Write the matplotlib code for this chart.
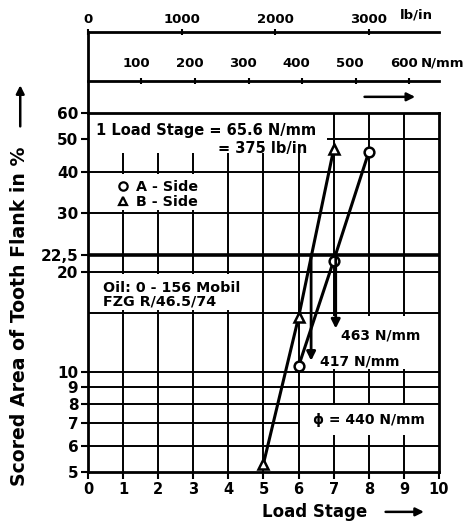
import matplotlib.pyplot as plt
from matplotlib.patches import Rectangle
from matplotlib.lines import Line2D
from matplotlib.ticker import NullLocator

plt.rcParams['font.family'] = ['DejaVu Sans']
plt.rcParams['font.weight'] = 'bold'

# Data
stages_A = [6, 7, 8]
scored_A = [10.4, 21.6, 45.8]
stages_B = [5, 6, 7]
scored_B = [5.3, 14.6, 46.7]
limit_level = 22.5
limit_loads = [417, 463]          # N/mm at 22.5 %
limit_arrow_ends = [10.8, 13.5]
mean_load = 440
n_per_stage = 65.6
lb_per_stage = 375

y_ticks = [5, 6, 7, 8, 9, 10, 20, 22.5, 30, 40, 50, 60]
y_tick_labels = ['5', '6', '7', '8', '9', '10', '20', '22,5', '30', '40', '50', '60']
y_grid = [6, 7, 8, 9, 10, 15, 20, 30, 40, 50]
lb_ticks = [0, 1000, 2000, 3000]
n_ticks = [100, 200, 300, 400, 500, 600]

fig = plt.figure(figsize=(4.73, 5.30), dpi=100)
ax = fig.add_axes([0.186, 0.1094, 0.7421, 0.6774])

ax.set_xlim(0, 10)
ax.set_yscale('log')
ax.set_ylim(5, 60)
ax.set_yticks(y_ticks)
ax.set_yticklabels(y_tick_labels)
ax.yaxis.set_minor_locator(NullLocator())
ax.set_xticks(range(11))
ax.tick_params(axis='both', direction='out', length=5, width=1.5, pad=2)
ax.tick_params(axis='y', labelsize=11)
ax.tick_params(axis='x', labelsize=10.5)
for s in ax.spines.values():
    s.set_linewidth(2)

# grid
for v in y_grid:
    ax.axhline(v, color='black', lw=1.4, zorder=1)
ax.axhline(limit_level, color='black', lw=2.6, zorder=1)
for v in range(1, 10):
    ax.axvline(v, color='black', lw=1.4, zorder=1)

# white boxes over the grid
boxes = [(0, 45.5, 6.8, 60), (0, 30.6, 3.5, 39.4), (0, 15.3, 4.95, 19.7),
         (6.5, 10.2, 10, 14.7), (6.05, 6.45, 10, 7.95)]
for x0, y0, x1, y1 in boxes:
    ax.add_patch(Rectangle((x0, y0), x1 - x0, y1 - y0, facecolor='white',
                           edgecolor='none', zorder=2))

# series
ax.plot(stages_B, scored_B, color='black', lw=2.2, marker='^', ms=7,
        mfc='white', mec='black', mew=1.8, zorder=4)
ax.plot(stages_A, scored_A, color='black', lw=2.2, marker='o', ms=7,
        mfc='white', mec='black', mew=1.8, zorder=4)

# arrows for the limit loads
for load, yend in zip(limit_loads, limit_arrow_ends):
    xs = load / n_per_stage
    ax.annotate('', xy=(xs, yend), xytext=(xs, limit_level),
                arrowprops=dict(arrowstyle='-|>', lw=2, color='black',
                                mutation_scale=13, shrinkA=0, shrinkB=0),
                zorder=5)
ax.text(7.2, 12.9, f'{limit_loads[1]} N/mm', fontsize=10, va='center', zorder=3)
ax.text(6.6, 10.75, f'{limit_loads[0]} N/mm', fontsize=10, va='center', zorder=3)
ax.text(6.4, 7.15, f'ϕ = {mean_load} N/mm', fontsize=10, va='center', zorder=3)

ax.text(0.22, 53.0, f'1 Load Stage = {n_per_stage} N/mm', fontsize=10.5,
        va='center', zorder=3)
ax.text(3.7, 46.8, f'= {lb_per_stage} lb/in', fontsize=10.5, va='center', zorder=3)
ax.text(0.42, 17.9, 'Oil: 0 - 156 Mobil', fontsize=10.3, va='center', zorder=3)
ax.text(0.42, 16.3, 'FZG R/46.5/74', fontsize=10.3, va='center', zorder=3)

handles = [Line2D([], [], ls='none', marker='o', ms=6, mfc='white', mec='black', mew=1.6),
           Line2D([], [], ls='none', marker='^', ms=6, mfc='white', mec='black', mew=1.6)]
leg = ax.legend(handles, ['A - Side', 'B - Side'], loc='center left',
                bbox_to_anchor=(0.084, 0.773), frameon=False, fontsize=10.3,
                handlelength=0.8, handletextpad=0.5, labelspacing=0.05,
                borderpad=0, borderaxespad=0)
for t in leg.get_texts():
    t.set_fontweight('bold')
leg.set_zorder(3)

ax.text(0.647, -0.111, 'Load Stage', transform=ax.transAxes, fontsize=12,
        ha='center', va='center')
ax.annotate('', xy=(0.965, -0.111), xytext=(0.84, -0.111), xycoords='axes fraction',
            arrowprops=dict(arrowstyle='-|>', lw=1.8, color='black', mutation_scale=12),
            annotation_clip=False)

fig.text(0.042, 0.404, 'Scored Area of Tooth Flank in %', rotation=90,
         fontsize=13.6, ha='center', va='center')
ax.annotate('', xy=(-0.193, 1.085), xytext=(-0.193, 0.955), xycoords='axes fraction',
            arrowprops=dict(arrowstyle='-|>', lw=1.8, color='black', mutation_scale=12),
            annotation_clip=False)

# top scales
sec_n = ax.secondary_xaxis(1.089, functions=(lambda x: x * n_per_stage,
                                            lambda x: x / n_per_stage))
sec_n.set_xticks(n_ticks)
sec_n.tick_params(direction='inout', length=5, width=1.5, labeltop=False)
sec_n.spines['top'].set_linewidth(2)
for n in n_ticks:
    ax.text(n / n_per_stage - 0.15, 1.139, str(n), transform=ax.get_xaxis_transform(),
            fontsize=9.5, ha='center', va='center')

sec_lb = ax.secondary_xaxis(1.2256, functions=(lambda x: x * lb_per_stage,
                                              lambda x: x / lb_per_stage))
sec_lb.set_xticks(lb_ticks)
sec_lb.tick_params(direction='inout', length=5, width=1.5, labelsize=9.5, pad=1.5)
sec_lb.spines['top'].set_linewidth(2)

ax.plot([0, 0], [1, 1.2256], transform=ax.transAxes, color='black', lw=2,
        clip_on=False)
ax.text(0.889, 1.272, 'lb/in', transform=ax.transAxes, fontsize=9.5, va='center')
ax.text(0.948, 1.139, 'N/mm', transform=ax.transAxes, fontsize=9.5, va='center')
ax.annotate('', xy=(0.94, 1.045), xytext=(0.78, 1.045), xycoords='axes fraction',
            arrowprops=dict(arrowstyle='-|>', lw=1.8, color='black', mutation_scale=12),
            annotation_clip=False)

fig.savefig('out.png', dpi=100)
